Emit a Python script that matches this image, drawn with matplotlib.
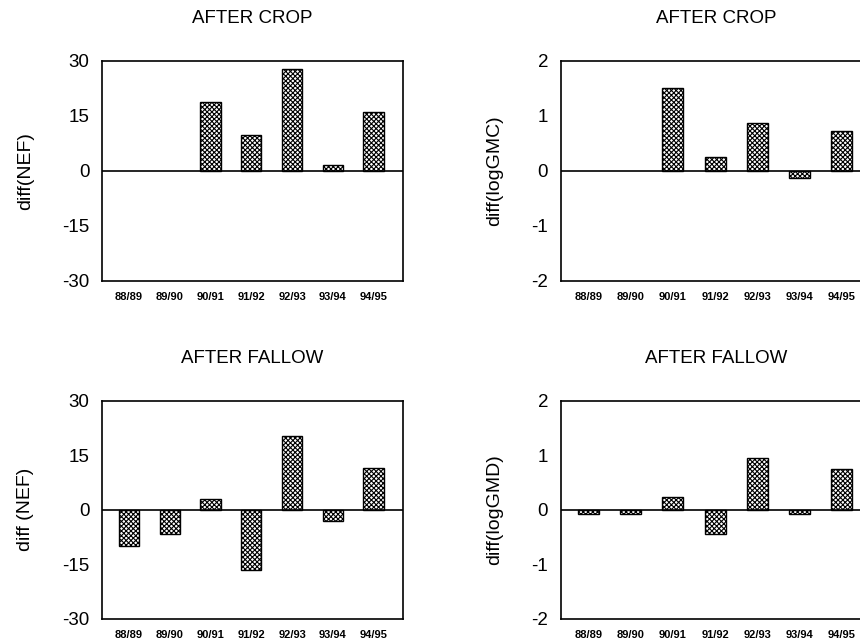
import numpy as np
import matplotlib.pyplot as plt

plt.rcParams['font.family'] = ['Liberation Sans', 'DejaVu Sans']
plt.rcParams['hatch.linewidth'] = 0.8

seasons = ["88/89", "89/90", "90/91", "91/92", "92/93", "93/94", "94/95"]

# (0 = no bar)
nef_crop = [0, 0, 18.7, 9.7, 27.7, 1.5, 16.0]
gmc_crop = [0, 0, 1.50, 0.25, 0.87, -0.13, 0.73]
nef_fallow = [-9.9, -6.6, 2.9, -16.5, 20.2, -3.1, 11.6]
gmd_fallow = [-0.07, -0.07, 0.23, -0.45, 0.94, -0.07, 0.75]

panels = [
    ("AFTER CROP", "diff(NEF)", nef_crop, 30, [30, 15, 0, -15, -30]),
    ("AFTER CROP", "diff(logGMC)", gmc_crop, 2, [2, 1, 0, -1, -2]),
    ("AFTER FALLOW", "diff (NEF)", nef_fallow, 30, [30, 15, 0, -15, -30]),
    ("AFTER FALLOW", "diff(logGMD)", gmd_fallow, 2, [2, 1, 0, -1, -2]),
]

# axes boxes in figure fraction: left, bottom, width, height
boxes = [
    [0.1186, 0.561, 0.350, 0.344],
    [0.652, 0.561, 0.362, 0.344],
    [0.1186, 0.033, 0.350, 0.341],
    [0.652, 0.033, 0.362, 0.341],
]

fig = plt.figure(figsize=(8.6, 6.4), dpi=100)

x = np.arange(len(seasons))
for (title, ylabel, vals, lim, ticks), box in zip(panels, boxes):
    ax = fig.add_axes(box)
    v = np.array(vals, dtype=float)
    show = v != 0
    ax.bar(x[show], v[show], width=0.5, color="white", edgecolor="black",
           hatch="xxxxxxx", linewidth=1.0)
    ax.axhline(0, color="black", linewidth=1.2)
    ax.set_xlim(-0.66, 6.72)
    ax.set_ylim(-lim, lim)
    ax.set_yticks(ticks)
    ax.set_yticklabels([str(t) for t in ticks], fontsize=13.5)
    ax.set_xticks(x)
    ax.set_xticklabels(seasons, fontsize=8, fontweight="bold")
    ax.tick_params(axis="y", length=0, pad=9)
    ax.tick_params(axis="x", length=0, pad=8)
    ax.set_ylabel(ylabel, fontsize=14, labelpad=20)
    ax.set_title(title, fontsize=13.5, pad=27)
    for s in ax.spines.values():
        s.set_linewidth(1.2)

fig.savefig("out.png", dpi=100)
